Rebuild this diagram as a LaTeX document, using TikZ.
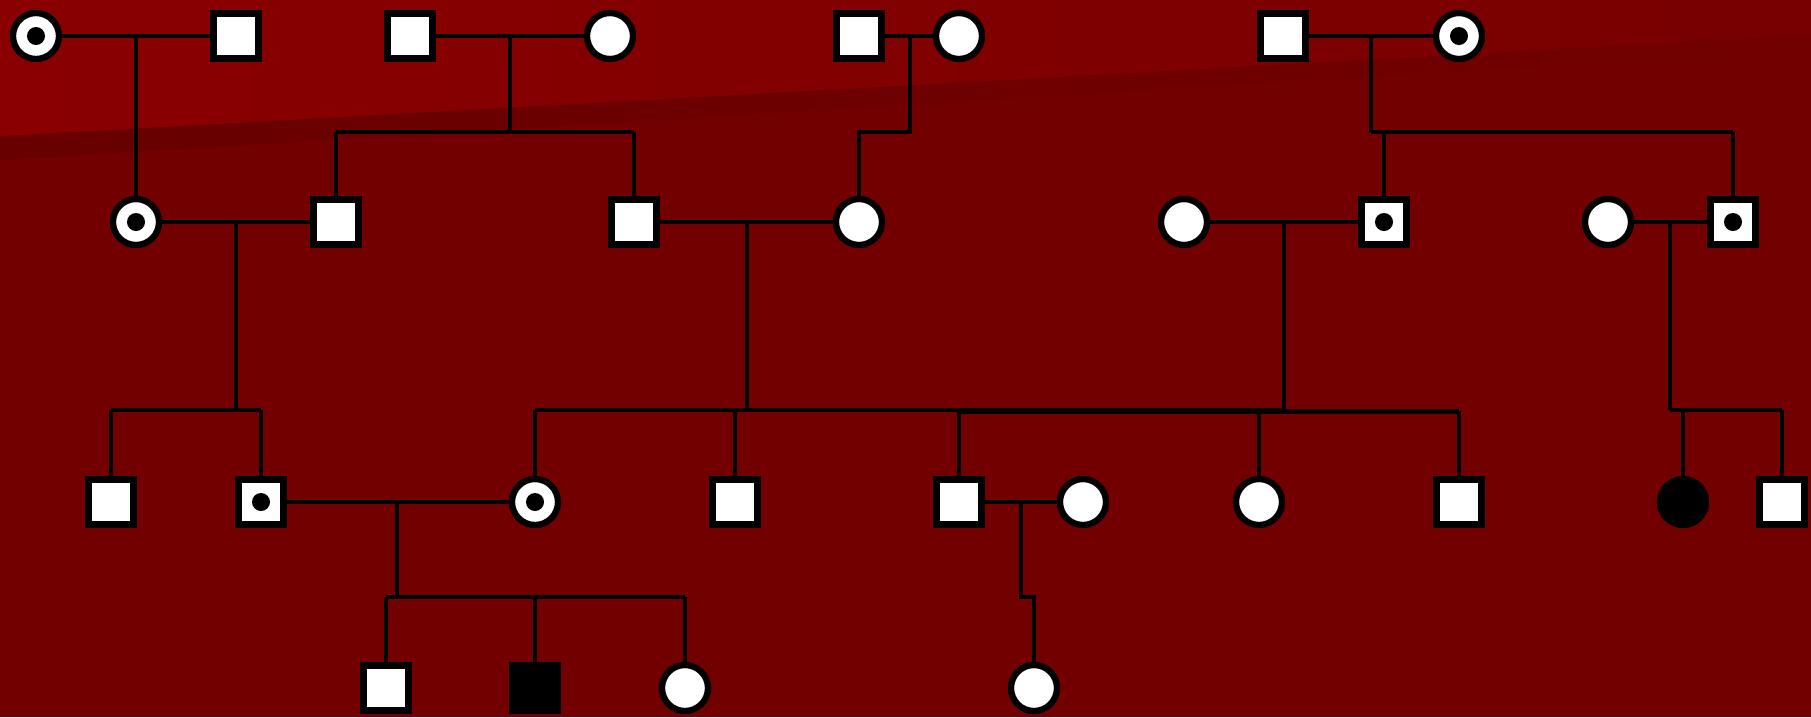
\documentclass[tikz,border=0pt]{standalone}
\definecolor{achtergrond}{HTML}{720000}
\definecolor{lichtrood}{HTML}{8A0000}
\definecolor{middenrood}{HTML}{780000}
\definecolor{schaduw}{HTML}{680000}
\begin{document}
\begin{tikzpicture}[x=0.01cm, y=-0.01cm,
    man/.style={draw, line width=1.8pt, fill=white, minimum size=0.45cm, inner sep=0pt},
    vrouw/.style={circle, draw, line width=1.8pt, fill=white, minimum size=0.46cm, inner sep=0pt},
    drager/.style={path picture={\fill[black] (path picture bounding box.center) circle (0.09cm);}},
    aangedaan/.style={fill=black},
    huwelijk/.style={line width=1.25pt},
    lijn/.style={line width=1.05pt}]

  % Achtergrond
  \useasboundingbox (0,0) rectangle (1811,717);
  \fill[achtergrond] (0,0) rectangle (1811,717);
  \shade[left color=schaduw, right color=achtergrond] (0,136) -- (1811,35) -- (1811,50) -- (0,160) -- cycle;
  \shade[left color=lichtrood, right color=middenrood] (0,0) -- (1811,0) -- (1811,35) -- (0,136) -- cycle;

  % Generatie 1
  \node[vrouw, drager] (a1) at (36,36) {};
  \node[man]           (a2) at (236,36) {};
  \node[man]           (a3) at (410,36) {};
  \node[vrouw]         (a4) at (610,36) {};
  \node[man]           (a5) at (859,36) {};
  \node[vrouw]         (a6) at (959,36) {};
  \node[man]           (a7) at (1283,36) {};
  \node[vrouw, drager] (a8) at (1459,36) {};

  % Generatie 2
  \node[vrouw, drager] (b1) at (136,222) {};
  \node[man]           (b2) at (336,222) {};
  \node[man]           (b3) at (634,222) {};
  \node[vrouw]         (b4) at (859,222) {};
  \node[vrouw]         (b5) at (1184,222) {};
  \node[man, drager]   (b6) at (1384,222) {};
  \node[vrouw]         (b7) at (1608,222) {};
  \node[man, drager]   (b8) at (1733,222) {};

  % Generatie 3
  \node[man]                  (c1) at (111,502) {};
  \node[man, drager]          (c2) at (261,502) {};
  \node[vrouw, drager]        (c3) at (535,502) {};
  \node[man]                  (c4) at (735,502) {};
  \node[man]                  (c5) at (959,502) {};
  \node[vrouw]                (c6) at (1083,502) {};
  \node[vrouw]                (c7) at (1259,502) {};
  \node[man]                  (c8) at (1459,502) {};
  \node[vrouw, aangedaan]     (c9) at (1683,502) {};
  \node[man]                  (c10) at (1782,502) {};

  % Generatie 4
  \node[man]              (d1) at (386,688) {};
  \node[man, aangedaan]   (d2) at (535,688) {};
  \node[vrouw]            (d3) at (685,688) {};
  \node[vrouw]            (d4) at (1034,688) {};

  % Huwelijkslijnen
  \draw[huwelijk] (a1) -- (a2);
  \draw[huwelijk] (a3) -- (a4);
  \draw[huwelijk] (a5) -- (a6);
  \draw[huwelijk] (a7) -- (a8);
  \draw[huwelijk] (b1) -- (b2);
  \draw[huwelijk] (b3) -- (b4);
  \draw[huwelijk] (b5) -- (b6);
  \draw[huwelijk] (b7) -- (b8);
  \draw[huwelijk] (c2) -- (c3);
  \draw[huwelijk] (c5) -- (c6);

  % Afstammingslijnen generatie 1 -> 2
  \draw[lijn] (136,36) -- (b1);
  \draw[lijn] (510,36) -- (510,132);
  \draw[huwelijk] (336,132) -- (634,132);
  \draw[lijn] (336,132) -- (b2);
  \draw[lijn] (634,132) -- (b3);
  \draw[lijn] (910,36) -- (910,132) -- (859,132) -- (b4);
  \draw[lijn] (1371,36) -- (1371,132);
  \draw[huwelijk] (1371,132) -- (1733,132);
  \draw[lijn] (1384,132) -- (b6);
  \draw[lijn] (1733,132) -- (b8);

  % Afstammingslijnen generatie 2 -> 3
  \draw[lijn] (236,222) -- (236,410);
  \draw[huwelijk] (111,410) -- (261,410);
  \draw[lijn] (111,410) -- (c1);
  \draw[lijn] (261,410) -- (c2);
  \draw[lijn] (747,222) -- (747,410);
  \draw[huwelijk] (535,410) -- (1284,410);
  \draw[huwelijk] (959,411.5) -- (1459,411.5);
  \draw[lijn] (535,410) -- (c3);
  \draw[lijn] (735,410) -- (c4);
  \draw[lijn] (959,410) -- (c5);
  \draw[lijn] (1284,222) -- (1284,411);
  \draw[lijn] (1259,411) -- (c7);
  \draw[lijn] (1459,411) -- (c8);
  \draw[lijn] (1670,222) -- (1670,410);
  \draw[huwelijk] (1670,410) -- (1782,410);
  \draw[lijn] (1683,410) -- (c9);
  \draw[lijn] (1782,410) -- (c10);

  % Afstammingslijnen generatie 3 -> 4
  \draw[lijn] (397,502) -- (397,597);
  \draw[huwelijk] (386,597) -- (685,597);
  \draw[lijn] (386,597) -- (d1);
  \draw[lijn] (535,597) -- (d2);
  \draw[lijn] (685,597) -- (d3);
  \draw[lijn] (1021,502) -- (1021,597) -- (1034,597) -- (d4);

\end{tikzpicture}
\end{document}
